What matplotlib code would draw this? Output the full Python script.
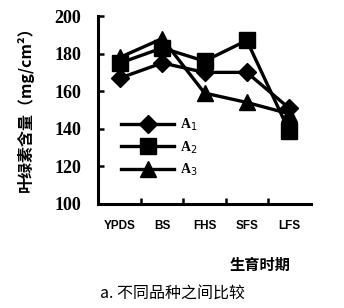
import matplotlib
matplotlib.use("Agg")
import matplotlib.pyplot as plt

plt.rcParams['font.family'] = ['Noto Sans CJK SC', 'DejaVu Sans']

stages = ['YPDS', 'BS', 'FHS', 'SFS', 'LFS']
a1 = [167, 175, 170, 170, 151]
a2 = [175, 183, 176, 187, 139]
a3 = [178, 188, 159, 154, 148]
y_ticks = [100, 120, 140, 160, 180, 200]

fig = plt.figure(figsize=(3.44, 3.08), dpi=100)
ax = fig.add_axes([0.285, 0.338, 0.619, 0.61])

x = list(range(len(stages)))
ax.plot(x, a1, color='black', lw=2.4, marker='D', markersize=9, label='A$_1$')
ax.plot(x, a2, color='black', lw=2.4, marker='s', markersize=11, label='A$_2$')
ax.plot(x, a3, color='black', lw=2.4, marker='^', markersize=11, label='A$_3$')

ax.set_xlim(-0.52, 4.52)
ax.set_ylim(100, 200)
ax.set_yticks(y_ticks)
ax.set_yticklabels([str(v) for v in y_ticks], fontsize=13, fontweight='bold',
                   family=['Liberation Serif', 'DejaVu Serif'])
ax.set_xticks([0.5, 1.5, 2.5, 3.5])
ax.set_xticklabels([])
ax.tick_params(direction='in', width=1.8, length=4)
ax.tick_params(axis='y', pad=12)
for i, s in enumerate(stages):
    ax.text(i, 88, s, ha='center', va='center', fontsize=8.5, fontweight='bold',
            family=['Liberation Sans', 'DejaVu Sans'], clip_on=False)

for side in ['top', 'right']:
    ax.spines[side].set_visible(False)
for side in ['left', 'bottom']:
    ax.spines[side].set_linewidth(2.2)

ax.legend(loc='lower left', bbox_to_anchor=(0.05, 0.07), frameon=False,
          handlelength=3.8, labelspacing=0.45, handletextpad=0.4,
          prop={'family': ['Liberation Serif'], 'weight': 'bold', 'size': 10})

fig.text(0.073, 0.66, '叶绿素含量（mg/cm²）', rotation=90, ha='center', va='center',
         fontsize=11.5, fontweight='bold')
fig.text(0.757, 0.14, '生育时期', ha='center', va='center', fontsize=11,
         fontweight='bold')
fig.text(0.5, 0.048, 'a. 不同品种之间比较', ha='center', va='center', fontsize=11.5)

fig.savefig('out.png', dpi=100)
